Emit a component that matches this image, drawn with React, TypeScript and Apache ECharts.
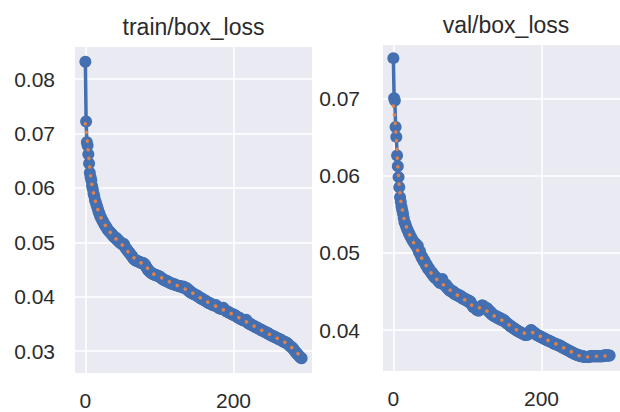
import React, { useEffect, useRef } from "react";
import * as echarts from "echarts";

const titles = ["train/box_loss", "val/box_loss"];

const trainLoss = [
  0.0832, 0.0722, 0.0684, 0.0678, 0.0662, 0.0645, 0.0628, 0.0620, 0.0614, 0.0604,
  0.0598, 0.0590, 0.0585, 0.0578, 0.0574, 0.0569, 0.0565, 0.0561, 0.0556, 0.0553,
  0.0548, 0.0546, 0.0543, 0.0540, 0.0538, 0.0535, 0.0533, 0.0530, 0.0529, 0.0526,
  0.0524, 0.0522, 0.0521, 0.0519, 0.0518, 0.0516, 0.0515, 0.0513, 0.0511, 0.0510,
  0.0509, 0.0507, 0.0508, 0.0505, 0.0503, 0.0504, 0.0501, 0.0499, 0.0500, 0.0497,
  0.0498, 0.0496, 0.0497, 0.0494, 0.0490, 0.0489, 0.0487, 0.0485, 0.0483, 0.0482,
  0.0480, 0.0478, 0.0476, 0.0475, 0.0472, 0.0470, 0.0469, 0.0468, 0.0467, 0.0466,
  0.0466, 0.0465, 0.0465, 0.0464, 0.0463, 0.0463, 0.0462, 0.0461, 0.0462, 0.0461,
  0.0460, 0.0458, 0.0455, 0.0453, 0.0451, 0.0449, 0.0448, 0.0446, 0.0445, 0.0444,
  0.0443, 0.0442, 0.0442, 0.0441, 0.0440, 0.0440, 0.0439, 0.0439, 0.0438, 0.0438,
  0.0437, 0.0437, 0.0435, 0.0434, 0.0433, 0.0432, 0.0431, 0.0431, 0.0430, 0.0429,
  0.0429, 0.0428, 0.0427, 0.0427, 0.0426, 0.0425, 0.0425, 0.0424, 0.0424, 0.0423,
  0.0423, 0.0422, 0.0422, 0.0421, 0.0421, 0.0420, 0.0420, 0.0420, 0.0419, 0.0419,
  0.0418, 0.0418, 0.0419, 0.0418, 0.0416, 0.0415, 0.0416, 0.0416, 0.0414, 0.0411,
  0.0412, 0.0410, 0.0408, 0.0409, 0.0407, 0.0406, 0.0405, 0.0405, 0.0404, 0.0403,
  0.0403, 0.0402, 0.0401, 0.0400, 0.0399, 0.0398, 0.0397, 0.0397, 0.0396, 0.0395,
  0.0394, 0.0393, 0.0393, 0.0392, 0.0391, 0.0390, 0.0389, 0.0389, 0.0388, 0.0387,
  0.0387, 0.0386, 0.0385, 0.0385, 0.0384, 0.0384, 0.0385, 0.0383, 0.0382, 0.0381,
  0.0380, 0.0379, 0.0379, 0.0378, 0.0378, 0.0379, 0.0380, 0.0378, 0.0376, 0.0375,
  0.0374, 0.0373, 0.0373, 0.0372, 0.0371, 0.0370, 0.0370, 0.0369, 0.0368, 0.0368,
  0.0367, 0.0366, 0.0366, 0.0365, 0.0364, 0.0363, 0.0362, 0.0362, 0.0361, 0.0360,
  0.0359, 0.0358, 0.0358, 0.0357, 0.0357, 0.0356, 0.0357, 0.0358, 0.0356, 0.0353,
  0.0352, 0.0351, 0.0350, 0.0350, 0.0349, 0.0348, 0.0347, 0.0347, 0.0346, 0.0345,
  0.0344, 0.0344, 0.0343, 0.0342, 0.0342, 0.0341, 0.0340, 0.0339, 0.0339, 0.0338,
  0.0337, 0.0337, 0.0336, 0.0335, 0.0335, 0.0334, 0.0333, 0.0333, 0.0331, 0.0331,
  0.0330, 0.0329, 0.0329, 0.0328, 0.0327, 0.0327, 0.0326, 0.0325, 0.0325, 0.0324,
  0.0323, 0.0323, 0.0322, 0.0321, 0.0321, 0.0320, 0.0319, 0.0318, 0.0318, 0.0317,
  0.0316, 0.0316, 0.0315, 0.0314, 0.0313, 0.0311, 0.0310, 0.0309, 0.0308, 0.0307,
  0.0305, 0.0304, 0.0302, 0.0300, 0.0298, 0.0297, 0.0295, 0.0294, 0.0292, 0.0291,
  0.0289, 0.0288, 0.0287,
];

const valLoss = [
  0.0752, 0.0700, 0.0697, 0.0663, 0.0650, 0.0626, 0.0612, 0.0598, 0.0585, 0.0572,
  0.0566, 0.0560, 0.0555, 0.0551, 0.0545, 0.0540, 0.0538, 0.0535, 0.0532, 0.0530,
  0.0528, 0.0525, 0.0524, 0.0521, 0.0520, 0.0518, 0.0516, 0.0515, 0.0513, 0.0512,
  0.0510, 0.0511, 0.0507, 0.0509, 0.0503, 0.0500, 0.0502, 0.0497, 0.0494, 0.0495,
  0.0491, 0.0489, 0.0490, 0.0486, 0.0484, 0.0485, 0.0481, 0.0479, 0.0480, 0.0477,
  0.0476, 0.0474, 0.0475, 0.0472, 0.0470, 0.0471, 0.0468, 0.0467, 0.0468, 0.0466,
  0.0465, 0.0463, 0.0464, 0.0461, 0.0462, 0.0463, 0.0466, 0.0462, 0.0459, 0.0460,
  0.0458, 0.0459, 0.0455, 0.0456, 0.0453, 0.0454, 0.0451, 0.0452, 0.0450, 0.0451,
  0.0449, 0.0450, 0.0447, 0.0448, 0.0446, 0.0447, 0.0445, 0.0446, 0.0444, 0.0445,
  0.0443, 0.0444, 0.0443, 0.0441, 0.0442, 0.0440, 0.0441, 0.0439, 0.0440, 0.0438,
  0.0439, 0.0437, 0.0438, 0.0436, 0.0437, 0.0434, 0.0433, 0.0431, 0.0430, 0.0429,
  0.0430, 0.0428, 0.0427, 0.0426, 0.0427, 0.0425, 0.0426, 0.0427, 0.0429, 0.0431,
  0.0432, 0.0430, 0.0431, 0.0429, 0.0428, 0.0429, 0.0427, 0.0428, 0.0426, 0.0424,
  0.0423, 0.0424, 0.0421, 0.0420, 0.0421, 0.0419, 0.0418, 0.0419, 0.0417, 0.0418,
  0.0416, 0.0417, 0.0415, 0.0416, 0.0414, 0.0415, 0.0413, 0.0414, 0.0412, 0.0413,
  0.0412, 0.0411, 0.0410, 0.0409, 0.0408, 0.0408, 0.0407, 0.0406, 0.0405, 0.0405,
  0.0404, 0.0403, 0.0403, 0.0402, 0.0401, 0.0401, 0.0400, 0.0399, 0.0399, 0.0398,
  0.0398, 0.0397, 0.0397, 0.0396, 0.0396, 0.0395, 0.0395, 0.0394, 0.0394, 0.0394,
  0.0394, 0.0394, 0.0395, 0.0396, 0.0398, 0.0399, 0.0400, 0.0399, 0.0398, 0.0397,
  0.0397, 0.0396, 0.0395, 0.0394, 0.0394, 0.0393, 0.0393, 0.0392, 0.0392, 0.0391,
  0.0391, 0.0390, 0.0390, 0.0389, 0.0389, 0.0388, 0.0388, 0.0387, 0.0387, 0.0386,
  0.0386, 0.0386, 0.0385, 0.0385, 0.0384, 0.0384, 0.0383, 0.0383, 0.0382, 0.0382,
  0.0382, 0.0381, 0.0381, 0.0380, 0.0380, 0.0380, 0.0379, 0.0378, 0.0378, 0.0377,
  0.0377, 0.0376, 0.0376, 0.0375, 0.0375, 0.0374, 0.0374, 0.0373, 0.0373, 0.0372,
  0.0372, 0.0371, 0.0371, 0.0370, 0.0370, 0.0369, 0.0369, 0.0368, 0.0368, 0.0368,
  0.0367, 0.0367, 0.0367, 0.0366, 0.0366, 0.0366, 0.0366, 0.0366, 0.0365, 0.0365,
  0.0365, 0.0365, 0.0365, 0.0365, 0.0365, 0.0366, 0.0366, 0.0366, 0.0366, 0.0366,
  0.0366, 0.0366, 0.0366, 0.0366, 0.0366, 0.0366, 0.0366, 0.0366, 0.0366, 0.0366,
  0.0366, 0.0366, 0.0366, 0.0366, 0.0367, 0.0367, 0.0367, 0.0367, 0.0367, 0.0367,
  0.0367, 0.0367, 0.0367,
];

const trainSmoothEpochs = [0, 2, 4, 6, 8, 10, 15, 20, 30, 40, 50, 60, 70, 80, 90, 100, 120, 140, 160, 180, 200, 220, 240, 260, 270, 280, 292];
const trainSmooth = [0.0718, 0.0696, 0.0665, 0.0636, 0.0614, 0.0596, 0.0567, 0.0548, 0.0524, 0.0508, 0.0495, 0.0479, 0.0466, 0.0459, 0.0443, 0.0437, 0.0423, 0.0411, 0.0394, 0.0380, 0.0367, 0.0352, 0.0337, 0.0323, 0.0316, 0.0305, 0.0289];

const valSmoothEpochs = [0, 2, 4, 6, 8, 10, 15, 20, 30, 40, 50, 60, 70, 80, 90, 100, 110, 120, 130, 140, 150, 160, 170, 180, 190, 200, 210, 220, 230, 240, 250, 260, 270, 280, 292];
const valSmooth = [0.0690, 0.0675, 0.0646, 0.0612, 0.0586, 0.0567, 0.0541, 0.0527, 0.0508, 0.0490, 0.0475, 0.0464, 0.0457, 0.0449, 0.0443, 0.0437, 0.0429, 0.0429, 0.0422, 0.0416, 0.0411, 0.0404, 0.0398, 0.0395, 0.0397, 0.0391, 0.0386, 0.0382, 0.0377, 0.0372, 0.0367, 0.0365, 0.0366, 0.0366, 0.0367];

const BLUE = "#4470B2";
const ORANGE = "#E0824A";
const TEXT = "#2b2b2b";
const FONT = "Liberation Sans, Arial, sans-serif";

export default function App() {
  const ref = useRef<HTMLDivElement>(null);
  useEffect(() => {
    document.body.style.margin = "0";
    const chart = echarts.init(ref.current!, null, { renderer: "svg" });
    const grids = [
      { left: 75, top: 47, width: 237, height: 326 },
      { left: 383, top: 45, width: 246, height: 326 },
    ];
    const yRanges = [
      [0.026, 0.0859],
      [0.0347, 0.0769],
    ];
    const labelMargins = [20, 23];
    const xAxis = grids.map((_, i) => ({
      type: "value",
      gridIndex: i,
      min: -14,
      max: 306,
      minInterval: 200,
      maxInterval: 200,
      axisLine: { show: false },
      axisTick: { show: false },
      axisLabel: {
        showMinLabel: false,
        showMaxLabel: false,
        margin: 17,
        fontSize: 21,
        color: TEXT,
        fontFamily: FONT,
      },
      splitLine: { show: true, showMinLine: false, showMaxLine: false, lineStyle: { color: "#ffffff", width: 1.5 } },
    }));
    const yAxis = grids.map((_, i) => ({
      type: "value",
      gridIndex: i,
      min: yRanges[i][0],
      max: yRanges[i][1],
      minInterval: 0.01,
      maxInterval: 0.01,
      axisLine: { show: false },
      axisTick: { show: false },
      axisLabel: {
        showMinLabel: false,
        showMaxLabel: false,
        margin: labelMargins[i],
        fontSize: 21,
        color: TEXT,
        fontFamily: FONT,
        formatter: (v: number) => v.toFixed(2),
      },
      splitLine: { show: true, showMinLine: false, showMaxLine: false, lineStyle: { color: "#ffffff", width: 1.5 } },
    }));
    const mainSeries = (vals: number[], i: number) => ({
      type: "line",
      xAxisIndex: i,
      yAxisIndex: i,
      data: vals.map((v, k) => [k, v]),
      symbol: "circle",
      symbolSize: 12,
      showSymbol: true,
      itemStyle: { color: BLUE },
      lineStyle: { color: BLUE, width: 3.5 },
      z: 2,
    });
    const smoothSeries = (ep: number[], vals: number[], i: number) => ({
      type: "line",
      xAxisIndex: i,
      yAxisIndex: i,
      data: ep.map((e, k) => [e, vals[k]]),
      showSymbol: false,
      symbol: "none",
      lineStyle: { color: ORANGE, width: 3.5, type: [0.1, 8.6], cap: "round" },
      z: 3,
    });
    chart.setOption({
      animation: false,
      backgroundColor: "#ffffff",
      grid: grids.map((g) => ({
        ...g,
        show: true,
        backgroundColor: "#EAEAF2",
        borderWidth: 0,
        containLabel: false,
      })),
      xAxis,
      yAxis,
      graphic: [
        {
          type: "text",
          x: 193.5,
          y: 26.5,
          style: { text: titles[0], fontSize: 23, fontFamily: FONT, fill: TEXT, align: "center", verticalAlign: "middle" },
        },
        {
          type: "text",
          x: 506,
          y: 24.5,
          style: { text: titles[1], fontSize: 23, fontFamily: FONT, fill: TEXT, align: "center", verticalAlign: "middle" },
        },
      ],
      series: [
        mainSeries(trainLoss, 0),
        smoothSeries(trainSmoothEpochs, trainSmooth, 0),
        mainSeries(valLoss, 1),
        smoothSeries(valSmoothEpochs, valSmooth, 1),
      ],
    });
    return () => chart.dispose();
  }, []);
  return <div ref={ref} style={{ width: 620, height: 412 }} />;
}
